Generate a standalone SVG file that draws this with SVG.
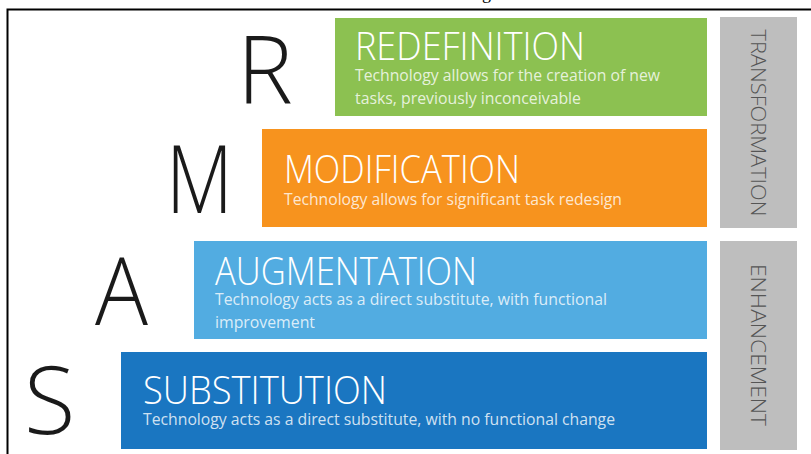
<svg xmlns="http://www.w3.org/2000/svg" width="811" height="454" viewBox="0 0 811 454">
<style>
.letter{font-family:"Open Sans","Lato","Liberation Sans",sans-serif;font-weight:300;fill:#1a1a1a;font-size:94px}
.title{font-family:"Open Sans","Lato","Liberation Sans",sans-serif;font-weight:300;fill:#ffffff;font-size:39px}
.sub{font-family:"Open Sans","Lato","Liberation Sans",sans-serif;font-weight:400;fill:#ffffff;fill-opacity:0.8;font-size:16px}
.side{font-family:"Open Sans","Lato","Liberation Sans",sans-serif;font-weight:300;fill:#555555;font-size:21px}
.gray{fill:#bebebe}
</style>
<rect x="0" y="0" width="811" height="454" fill="#ffffff"/>
<text x="482" y="-1" font-family="Liberation Serif, serif" font-size="18" fill="#000">g</text>
<path d="M7.5 454 V9.5 H811" fill="none" stroke="#000" stroke-width="2"/>

<g id="redefinition">
<rect x="335" y="18" width="372" height="98" fill="#8cc151"/>
<text class="title" x="355" y="60" textLength="230" lengthAdjust="spacingAndGlyphs">REDEFINITION</text>
<text class="sub" x="355" y="81" textLength="305" lengthAdjust="spacingAndGlyphs">Technology allows for the creation of new</text>
<text class="sub" x="355" y="104" textLength="226" lengthAdjust="spacingAndGlyphs">tasks, previously inconceivable</text>
</g>
<g id="modification">
<rect x="262" y="129" width="445" height="98" fill="#f7931e"/>
<text class="title" x="284" y="183" textLength="236" lengthAdjust="spacingAndGlyphs">MODIFICATION</text>
<text class="sub" x="284" y="205" textLength="338" lengthAdjust="spacingAndGlyphs">Technology allows for significant task redesign</text>
</g>
<g id="augmentation">
<rect x="194" y="241" width="513" height="98" fill="#52ace1"/>
<text class="title" x="215" y="285" textLength="262" lengthAdjust="spacingAndGlyphs">AUGMENTATION</text>
<text class="sub" x="215" y="305" textLength="392" lengthAdjust="spacingAndGlyphs">Technology acts as a direct substitute, with functional</text>
<text class="sub" x="215" y="328" textLength="100" lengthAdjust="spacingAndGlyphs">improvement</text>
</g>
<g id="substitution">
<rect x="121" y="352" width="586" height="97" fill="#1a76c1"/>
<text class="title" x="143" y="404" textLength="244" lengthAdjust="spacingAndGlyphs">SUBSTITUTION</text>
<text class="sub" x="143" y="425" textLength="472" lengthAdjust="spacingAndGlyphs">Technology acts as a direct substitute, with no functional change</text>
</g>

<g id="letter-r"><text class="letter" x="237" y="103">R</text></g>
<g id="letter-m"><text class="letter" x="166" y="213" textLength="67" lengthAdjust="spacingAndGlyphs">M</text></g>
<g id="letter-a"><text class="letter" x="95" y="325" textLength="53" lengthAdjust="spacingAndGlyphs">A</text></g>
<g id="letter-s"><text class="letter" x="24" y="434">S</text></g>

<g id="transformation">
<rect class="gray" x="720" y="17" width="77" height="211"/>
<text class="side" transform="translate(751,123) rotate(90)" text-anchor="middle" textLength="187" lengthAdjust="spacingAndGlyphs">TRANSFORMATION</text>
</g>
<g id="enhancement">
<rect class="gray" x="720" y="241" width="77" height="209"/>
<text class="side" transform="translate(751,345) rotate(90)" text-anchor="middle" textLength="162" lengthAdjust="spacingAndGlyphs">ENHANCEMENT</text>
</g>
</svg>
